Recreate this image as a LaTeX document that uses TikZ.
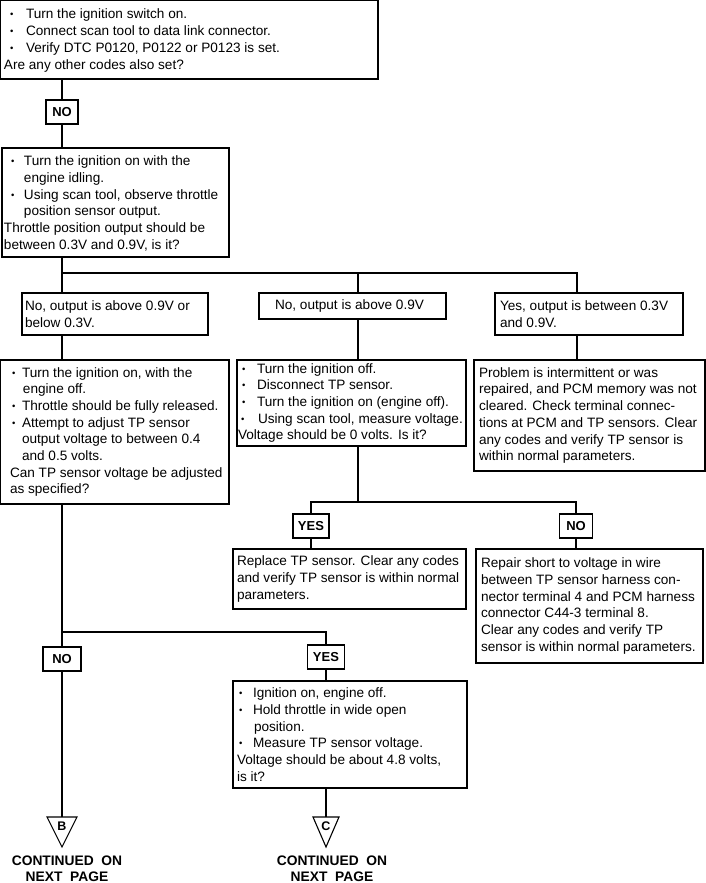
\documentclass[tikz,border=0pt]{standalone}
\usepackage{fontspec}
\setmainfont{Liberation Sans}
\usetikzlibrary{calc}
\newcommand{\bux}[2]{\makebox[#1][l]{\hspace{#2}\raisebox{1pt}{\fontsize{9.5}{9.5}\selectfont\textbullet}}}
\begin{document}
\begin{tikzpicture}[x=1pt,y=-1pt,
  box/.style={draw, line width=1.1pt, inner sep=0pt, outer sep=0pt, anchor=north west},
  txt/.style={inner sep=0pt, outer sep=0pt, align=left, anchor=west, font=\fontsize{13.6}{16.7}\selectfont},
  lab/.style={draw, line width=1.1pt, inner sep=0pt, outer sep=0pt, font=\fontsize{13}{14}\selectfont\bfseries},
  wire/.style={line width=1.6pt},
  tri/.style={line width=1.1pt, line join=miter},
  cont/.style={align=center, inner sep=0pt, font=\fontsize{13.8}{16}\selectfont\bfseries}]
\useasboundingbox[fill=white] (0,0) rectangle (706,883);

% ---- boxes (frames) ----
\node[box, minimum width=378pt, minimum height=79pt] (T) at (0,0) {};
\node[box, minimum width=227pt, minimum height=109pt] (B2) at (2,148) {};
\node[box, minimum width=186pt, minimum height=42pt] (L1) at (22,293) {};
\node[box, minimum width=187pt, minimum height=26pt] (M1) at (259,293) {};
\node[box, minimum width=188pt, minimum height=42pt] (R1) at (495,293) {};
\node[box, minimum width=229pt, minimum height=144pt] (L2) at (0,360) {};
\node[box, minimum width=229pt, minimum height=86pt] (M2) at (237,360) {};
\node[box, minimum width=231pt, minimum height=111pt] (R2) at (474,360) {};
\node[box, minimum width=233pt, minimum height=60pt] (M3) at (233,549) {};
\node[box, minimum width=227pt, minimum height=114pt] (R3) at (476,549) {};
\node[box, minimum width=234pt, minimum height=107pt] (M4) at (233,681) {};

% ---- box texts ----
\node[txt] (Tt) at ($(T.west)+(4,1)$) {%
\bux{22pt}{6pt}Turn the ignition switch on.\\
\bux{22pt}{6pt}Connect scan tool to data link connector.\\
\bux{22pt}{6pt}Verify DTC P0120, P0122 or P0123 is set.\\
Are any other codes also set?};

\node[txt] (B2t) at ($(B2.west)+(2,1)$) {%
\bux{20pt}{7pt}Turn the ignition on with the\\
\hspace*{20pt}engine idling.\\
\bux{20pt}{7pt}Using scan tool, observe throttle\\
\hspace*{20pt}position sensor output.\\
Throttle position output should be\\
between 0.3V and 0.9V, is it?};

\node[txt] (L1t) at ($(L1.west)+(3,0)$) {%
No, output is above 0.9V or\\
below 0.3V.};

\node[txt, anchor=center] (M1t) at ($(M1.center)+(-3,0)$) {No, output is above 0.9V};

\node[txt] (R1t) at ($(R1.west)+(5,0)$) {%
Yes, output is between 0.3V\\
and 0.9V.};

\node[txt] (L2t) at ($(L2.west)+(10,0)$) {%
\bux{12pt}{2pt}Turn the ignition on, with the\\
\hspace*{13pt}engine off.\\
\bux{12pt}{2pt}Throttle should be fully released.\\
\bux{12pt}{2pt}Attempt to adjust TP sensor\\
\hspace*{12pt}output voltage to between 0.4\\
\hspace*{12pt}and 0.5 volts.\\
Can TP sensor voltage be adjusted\\
as specified?};

\node[txt] (M2t) at ($(M2.west)+(1,0)$) {%
\bux{19pt}{4pt}Turn the ignition off.\\
\bux{19pt}{4pt}Disconnect TP sensor.\\
\bux{19pt}{4pt}Turn the ignition on (engine off).\\
\bux{20pt}{3pt}Using scan tool, measure voltage.\\
Voltage should be 0 volts. Is it?};

\node[txt] (R2t) at ($(R2.west)+(5,0)$) {%
Problem is intermittent or was\\
repaired, and PCM memory was not\\
cleared. Check terminal connec-\\
tions at PCM and TP sensors. Clear\\
any codes and verify TP sensor is\\
within normal parameters.};

\node[txt] (M3t) at ($(M3.west)+(4,0)$) {%
Replace TP sensor. Clear any codes\\
and verify TP sensor is within normal\\
parameters.};

\node[txt] (R3t) at ($(R3.west)+(5,0)$) {%
Repair short to voltage in wire\\
between TP sensor harness con-\\
nector terminal 4 and PCM harness\\
connector C44-3 terminal 8.\\
Clear any codes and verify TP\\
sensor is within normal parameters.};

\node[txt] (M4t) at ($(M4.west)+(4,0)$) {%
\bux{16pt}{2pt}Ignition on, engine off.\\
\bux{16pt}{2pt}Hold throttle in wide open\\
\hspace*{17pt}position.\\
\bux{16pt}{2pt}Measure TP sensor voltage.\\
Voltage should be about 4.8 volts,\\
is it?};

% ---- labels ----
\node[lab, minimum width=32pt, minimum height=24pt] (no1) at (62,112) {NO};
\node[lab, minimum width=36pt, minimum height=24pt] (yes1) at (311,526) {YES};
\node[lab, minimum width=33pt, minimum height=24pt] (no2) at (576,526) {NO};
\node[lab, minimum width=38pt, minimum height=24pt] (no3) at (62,659) {NO};
\node[lab, minimum width=37pt, minimum height=24pt] (yes2) at (326,657) {YES};

% ---- junctions ----
\coordinate (j1) at (62,273);
\coordinate (j2) at (358,273);
\coordinate (j3) at (577,273);
\coordinate (j4) at (358,502);
\coordinate (j5) at (62,632);
\coordinate (btop) at (62,817);
\coordinate (ctop) at (326,817);

% ---- connectors ----
\draw[wire] (T.south -| no1) -- (no1.north);
\draw[wire] (no1.south) -- (B2.north -| no1);
\draw[wire] (B2.south -| j1) -- (j1) -- (L1.north -| j1);
\draw[wire] (j1) -- (j3) -- (R1.north -| j3);
\draw[wire] (j2) -- (M1.north -| j2);
\draw[wire] (L1.south -| j1) -- (L2.north -| j1);
\draw[wire] (M1.south -| j2) -- (M2.north -| j2);
\draw[wire] (R1.south -| j3) -- (R2.north -| j3);
\draw[wire] (M2.south -| j4) -- (j4);
\draw[wire] (yes1.north) -- (yes1.north |- j4) -- (no2.north |- j4) -- (no2.north);
\draw[wire] (yes1.south) -- (M3.north -| yes1);
\draw[wire] (no2.south) -- (R3.north -| no2);
\draw[wire] (L2.south -| j5) -- (no3.north);
\draw[wire] (j5) -- (yes2.north |- j5) -- (yes2.north);
\draw[wire] (no3.south) -- (btop);
\draw[wire] (yes2.south) -- (M4.north -| yes2);
\draw[wire] (M4.south -| ctop) -- (ctop);

% ---- off-page connectors ----
\draw[tri] ($(btop)+(-15,0)$) -- ($(btop)+(15,0)$) -- ($(btop)+(0,30)$) -- cycle;
\draw[tri] ($(ctop)+(-13,0)$) -- ($(ctop)+(13,0)$) -- ($(ctop)+(0,30)$) -- cycle;
\node[font=\fontsize{12.5}{14}\selectfont\bfseries, inner sep=0pt] (bl) at (62,826) {B};
\node[font=\fontsize{12.5}{14}\selectfont\bfseries, inner sep=0pt] (cl) at (326,826) {C};
\node[cont] (bt) at (67,869) {CONTINUED\ \ ON\\NEXT\ \ PAGE};
\node[cont] (ct) at (332,869) {CONTINUED\ \ ON\\NEXT\ \ PAGE};
\end{tikzpicture}
\end{document}
